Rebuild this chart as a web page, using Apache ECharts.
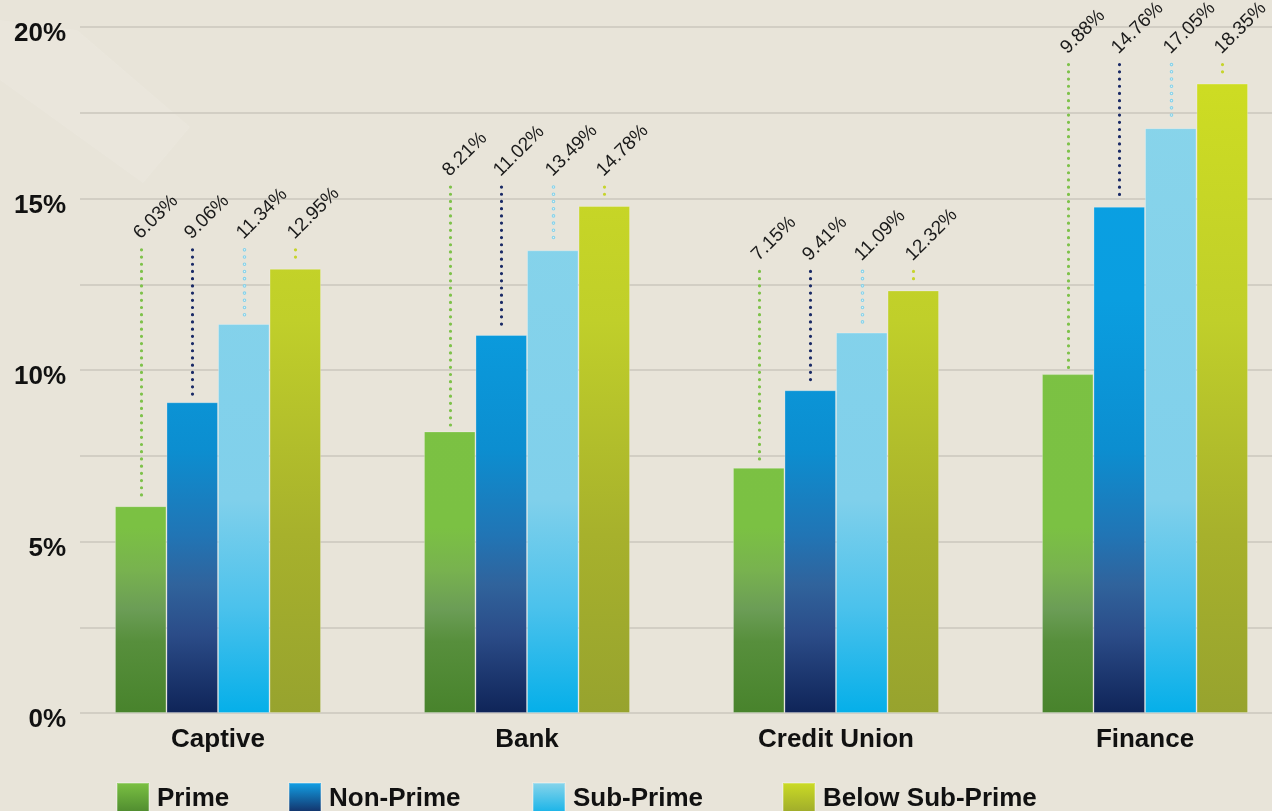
<!DOCTYPE html>
<html>
<head>
<meta charset="utf-8">
<script src="https://cdn.jsdelivr.net/npm/echarts@6/dist/echarts.min.js"></script>
<style>
html,body{margin:0;padding:0;background:#e8e4d9;}
#chart{width:1272px;height:811px;}
</style>
</head>
<body>
<div id="chart"></div>
<script>
// ---- data ----
const categories = ['Captive', 'Bank', 'Credit Union', 'Finance'];
const seriesNames = ['Prime', 'Non-Prime', 'Sub-Prime', 'Below Sub-Prime'];
const prime = [6.03, 8.21, 7.15, 9.88];
const nonPrime = [9.06, 11.02, 9.41, 14.76];
const subPrime = [11.34, 13.49, 11.09, 17.05];
const belowSubPrime = [12.95, 14.78, 12.32, 18.35];
const yTicks = [0, 5, 10, 15, 20];

const allValues = [prime, nonPrime, subPrime, belowSubPrime];
const groupMax = categories.map((c, i) => Math.max(...allValues.map(a => a[i])));

// ---- styles ----
const FONT = "'Liberation Sans', Arial, sans-serif";
const CAT_GAP = 0.333;
function globalGrad(stops) {
  return { type: 'linear', x: 0, y: 0, x2: 0, y2: 713, global: true,
    colorStops: stops.map(s => ({ offset: s[0], color: s[1] })) };
}
function localGrad(top, bottom) {
  return { type: 'linear', x: 0, y: 0, x2: 0, y2: 1,
    colorStops: [{ offset: 0, color: top }, { offset: 1, color: bottom }] };
}
const barColors = [
  globalGrad([[0, '#7cc243'], [0.74, '#7bc143'], [0.8, '#78b24f'], [0.855, '#6b9d56'], [0.9, '#578f3c'], [1, '#48832c']]),
  globalGrad([[0, '#0aa2e6'], [0.42, '#0a9ee0'], [0.63, '#0c8ed0'], [0.75, '#2175b5'], [0.82, '#30639c'], [0.89, '#2b4c88'], [1, '#0f2458']]),
  globalGrad([[0, '#8ad5ea'], [0.7, '#80d0eb'], [0.85, '#4cc2ec'], [1, '#05afe9']]),
  globalGrad([[0, '#d2e120'], [0.45, '#c0cf2a'], [0.75, '#a7b12c'], [1, '#97a32e']])
];
const legendColors = [
  localGrad('#7cc243', '#4a852d'),
  localGrad('#12a2e8', '#13245a'),
  localGrad('#8ad5ea', '#0cb0e8'),
  localGrad('#ccdc25', '#9aa62c')
];
const dotColors = ['#7ec24a', '#1a2a66', '#86d2ea', '#c6d42c'];
const legendLeft = [116, 288, 532, 782];

// label/leader data built from arrays
const leaderData = [];
allValues.forEach((arr, s) => arr.forEach((v, c) => leaderData.push([c, s, v, groupMax[c]])));

const chart = echarts.init(document.getElementById('chart'));
const option = {
  backgroundColor: '#e8e4d9',
  animation: false,
  graphic: [
    { type: 'polygon', silent: true, z: -10, shape: { points: [[0, 20], [77, 30], [190, 127], [143, 183], [0, 80]] }, style: { fill: 'rgba(255,255,255,0.10)' } }
  ],
  grid: [
    { left: 80, right: 0, top: 27, height: 686, outerBoundsMode: 'none' },
    { left: 63.5, top: 27, width: 1236, height: 686, outerBoundsMode: 'none' }
  ],
  xAxis: [
    { gridIndex: 0, type: 'value', show: false, min: 0, max: 1 },
    { gridIndex: 1, type: 'category', data: categories,
      axisLine: { show: false }, axisTick: { show: false },
      axisLabel: { margin: 14, fontSize: 26, fontWeight: 'bold', color: '#111', fontFamily: FONT } }
  ],
  yAxis: [
    { gridIndex: 0, type: 'value', min: 0, max: 20, interval: 2.5,
      axisLine: { show: false }, axisTick: { show: false },
      splitLine: { lineStyle: { color: '#d2cec4', width: 2 } },
      axisLabel: { margin: 14, fontSize: 26, fontWeight: 'bold', color: '#111', fontFamily: FONT,
        verticalAlign: 'top', lineHeight: 14,
        formatter: v => (yTicks.indexOf(v) >= 0 ? v + '%' : '') } },
    { gridIndex: 1, type: 'value', min: 0, max: 20, show: false, splitLine: { show: false } }
  ],
  legend: seriesNames.map((n, i) => ({
    left: legendLeft[i], top: 782, padding: 0, itemWidth: 32, itemHeight: 32, itemGap: 8,
    icon: 'rect', selectedMode: false,
    textStyle: { fontSize: 26, fontWeight: 'bold', color: '#111', fontFamily: FONT, padding: [0, 0, 0, 3] },
    data: [{ name: n, itemStyle: { color: legendColors[i] } }]
  })),
  series: allValues.map((arr, s) => ({
    name: seriesNames[s], type: 'bar', xAxisIndex: 1, yAxisIndex: 1,
    data: arr, barGap: 0, barCategoryGap: (CAT_GAP * 100) + '%',
    itemStyle: { color: barColors[s], borderColor: 'rgba(255,255,255,0.25)', borderWidth: 1 }
  })).concat([{
    type: 'custom', xAxisIndex: 1, yAxisIndex: 1, z: 5, silent: true,
    data: leaderData,
    renderItem: function (params, api) {
      const c = api.value(0), s = api.value(1), v = api.value(2), m = api.value(3);
      const p = api.coord([c, v]);
      const pm = api.coord([c, m]);
      const band = api.size([1, 0])[0];
      const gw = band * (1 - CAT_GAP);
      const bw = gw / 4;
      const x = Math.round(p[0] - gw / 2 + (s + 0.5) * bw) + 0.5;
      const yTop = pm[1] - 19;
      const yBot = p[1] - 6;
      const children = [];
      if (yBot > yTop) {
        children.push({ type: 'line', shape: { x1: x, y1: yTop, x2: x, y2: yBot },
          style: { stroke: dotColors[s], lineWidth: s === 2 ? 3.6 : 3.2, lineCap: 'round', lineDash: [0.01, 7.2] } });
        if (s === 2) {
          children.push({ type: 'line', shape: { x1: x, y1: yTop, x2: x, y2: yBot },
            style: { stroke: '#e2f2f6', lineWidth: 1.4, lineCap: 'round', lineDash: [0.01, 7.2] } });
        }
      }
      children.push({ type: 'text', x: x + 2, y: yTop - 7, rotation: Math.PI / 4,
        style: { text: v.toFixed(2) + '%', fill: '#1a1a1a', fontSize: 19, fontFamily: FONT,
          align: 'left', verticalAlign: 'bottom' } });
      return { type: 'group', children: children };
    }
  }])
};
chart.setOption(option);
</script>
</body>
</html>
